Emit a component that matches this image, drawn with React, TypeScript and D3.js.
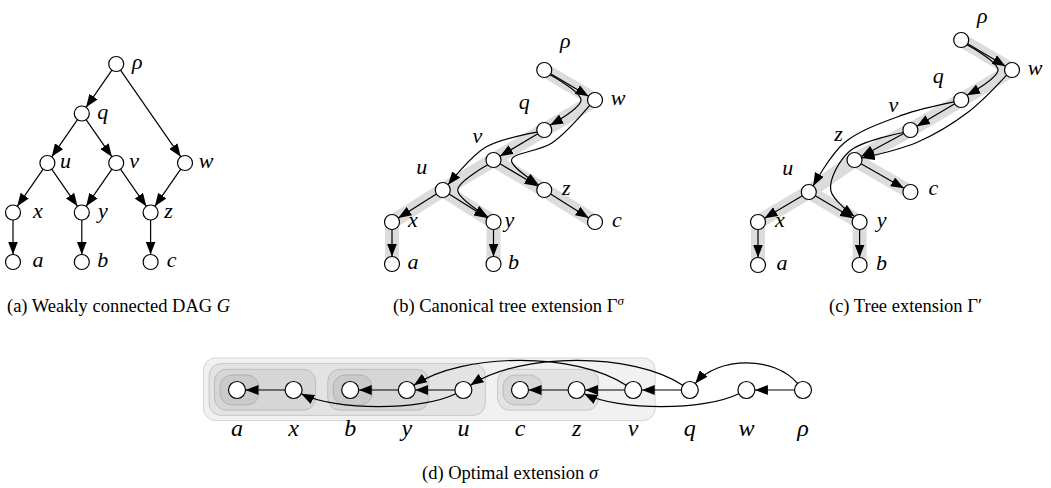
import React, { useRef, useEffect } from "react";
import * as d3 from "d3";

const WIDTH = 1051;
const HEIGHT = 488;

type P = [number, number];

// vertices of G and how they are printed
const nodeIds = ["rho", "q", "u", "v", "w", "x", "y", "z", "a", "b", "c"];
const nodeText: Record<string, string> = {
  rho: "ρ", q: "q", u: "u", v: "v", w: "w", x: "x", y: "y", z: "z", a: "a", b: "b", c: "c",
};

// arcs of the DAG G (source -> target)
const dagEdges: [string, string][] = [
  ["rho", "q"], ["rho", "w"], ["q", "u"], ["q", "v"], ["u", "x"], ["u", "y"],
  ["v", "y"], ["v", "z"], ["w", "z"], ["x", "a"], ["y", "b"], ["z", "c"],
];

// optimal extension sigma, left to right
const sigma = ["a", "x", "b", "y", "u", "c", "z", "v", "q", "w", "rho"];

// parent of each vertex in the canonical tree extension Γ^σ
const parentB: Record<string, string> = {
  w: "rho", q: "w", v: "q", u: "v", z: "v", x: "u", y: "u", a: "x", b: "y", c: "z",
};
// parent of each vertex in the tree extension Γ'
const parentC: Record<string, string> = {
  w: "rho", q: "w", v: "q", z: "v", u: "z", c: "z", x: "u", y: "u", a: "x", b: "y",
};

// vertices that get a nested box in (d)
const boxedD = ["a", "x", "b", "y", "u", "c", "z", "v"];

// grid cells (column, row) of the three drawings
const gridA: Record<string, P> = {
  rho: [3, 0], q: [2, 1], u: [1, 2], v: [3, 2], w: [5, 2],
  x: [0, 3], y: [2, 3], z: [4, 3], a: [0, 4], b: [2, 4], c: [4, 4],
};
const gridB: Record<string, P> = {
  rho: [3, 0], w: [4, 1], q: [3, 2], v: [2, 3], u: [1, 4], z: [3, 4],
  x: [0, 5], y: [2, 5], c: [4, 5], a: [0, 6], b: [2, 6],
};
const gridC: Record<string, P> = {
  rho: [4, 0], w: [5, 1], q: [4, 2], v: [3, 3], z: [1.9, 4], u: [1, 5], c: [3, 5],
  x: [0, 6], y: [2, 6], a: [0, 7], b: [2, 7],
};

const captions = [
  { parts: [["(a) Weakly connected DAG ", false], ["G", true]], x: 7, y: 312 },
  { parts: [["(b) Canonical tree extension Γ", false], ["σ", true, "sup"]], x: 393, y: 312 },
  { parts: [["(c) Tree extension Γ′", false]], x: 829, y: 312 },
  { parts: [["(d) Optimal extension ", false], ["σ", true]], x: 422, y: 479 },
];

const SERIF = '"Liberation Serif", "DejaVu Serif", "Times New Roman", serif';

const unit = (a: P, b: P): P => {
  const dx = b[0] - a[0], dy = b[1] - a[1];
  const l = Math.hypot(dx, dy) || 1;
  return [dx / l, dy / l];
};
const toward = (a: P, b: P, d: number): P => {
  const u = unit(a, b);
  return [a[0] + u[0] * d, a[1] + u[1] * d];
};

// path of the tree from s down to t
const treePath = (s: string, t: string, parent: Record<string, string>) => {
  const p = [t];
  let cur = t;
  while (cur !== s && parent[cur]) {
    cur = parent[cur];
    p.push(cur);
  }
  return p.reverse();
};

const App = () => {
  const svgRef = useRef<SVGSVGElement>(null);

  useEffect(() => {
    const svg = d3
      .select(svgRef.current)
      .attr("width", WIDTH)
      .attr("height", HEIGHT)
      .html("");

    svg
      .append("defs")
      .append("marker")
      .attr("id", "arrowhead")
      .attr("markerUnits", "userSpaceOnUse")
      .attr("viewBox", "0 0 13 10")
      .attr("refX", 13)
      .attr("refY", 5)
      .attr("markerWidth", 13)
      .attr("markerHeight", 10)
      .attr("orient", "auto")
      .append("path")
      .attr("d", "M0,0 L13,5 L0,10 z")
      .attr("fill", "#000");

    const smooth = d3.line().curve(d3.curveCatmullRom.alpha(0.5));

    const drawArrow = (g: any, pts: P[], curved: boolean) => {
      g.append("path")
        .attr("d", curved ? smooth(pts) : d3.line()(pts))
        .attr("fill", "none")
        .attr("stroke", "#000")
        .attr("stroke-width", 1.2)
        .attr("marker-end", "url(#arrowhead)");
    };

    const drawNodes = (g: any, pos: Record<string, P>, r: number) => {
      nodeIds.forEach((id) => {
        g.append("circle")
          .attr("cx", pos[id][0])
          .attr("cy", pos[id][1])
          .attr("r", r)
          .attr("fill", "#fff")
          .attr("stroke", "#000")
          .attr("stroke-width", 1.2);
      });
    };

    const drawLabels = (g: any, pos: Record<string, P>, off: Record<string, P>, size: number) => {
      nodeIds.forEach((id) => {
        const o = off[id] || [21, 0];
        g.append("text")
          .attr("x", pos[id][0] + o[0])
          .attr("y", pos[id][1] + o[1] + size * 0.23)
          .attr("text-anchor", "middle")
          .style("font-family", SERIF)
          .style("font-style", "italic")
          .style("font-size", `${size}px`)
          .text(nodeText[id]);
      });
    };

    // ---------- (a) the DAG ----------
    {
      const xs = d3.scaleLinear().domain([0, 5]).range([13, 185]);
      const ys = d3.scaleLinear().domain([0, 4]).range([64, 262]);
      const pos: Record<string, P> = {};
      nodeIds.forEach((id) => (pos[id] = [xs(gridA[id][0]), ys(gridA[id][1])]));
      const g = svg.append("g");
      const r = 7.5;
      dagEdges.forEach(([s, t]) => {
        drawArrow(g, [toward(pos[s], pos[t], r), toward(pos[t], pos[s], r)], false);
      });
      drawNodes(g, pos, r);
      drawLabels(g, pos, { x: [25, 0], a: [25, 0], u: [18, 0], v: [18, 0], z: [18, 0] }, 22);
    }

    // ---------- (b), (c) tree extensions ----------
    const drawTree = (
      grid: Record<string, P>,
      parent: Record<string, string>,
      xs: any,
      ys: any,
      routes: Record<string, { sides: number[]; off: number[] }>,
      labelOff: Record<string, P>
    ) => {
      const pos: Record<string, P> = {};
      nodeIds.forEach((id) => (pos[id] = [xs(grid[id][0]), ys(grid[id][1])]));
      const g = svg.append("g");
      const r = 7.5;
      Object.keys(parent).forEach((child) => {
        g.append("line")
          .attr("x1", pos[parent[child]][0])
          .attr("y1", pos[parent[child]][1])
          .attr("x2", pos[child][0])
          .attr("y2", pos[child][1])
          .attr("stroke", "#dcdcdc")
          .attr("stroke-width", 14)
          .attr("stroke-linecap", "round");
      });
      dagEdges.forEach(([s, t]) => {
        const path = treePath(s, t, parent);
        const pts = path.map((id) => pos[id]);
        if (pts.length === 2) {
          drawArrow(g, [toward(pts[0], pts[1], r), toward(pts[1], pts[0], r)], false);
          return;
        }
        const spec = routes[`${s}-${t}`];
        const way: P[] = [pts[0]];
        for (let i = 1; i < pts.length - 1; i++) {
          const d = unit(pts[i - 1], pts[i + 1]);
          const n: P = spec.sides[i - 1] > 0 ? [-d[1], d[0]] : [d[1], -d[0]];
          const o = spec.off[i - 1];
          way.push([pts[i][0] + n[0] * o, pts[i][1] + n[1] * o]);
        }
        way.push(pts[pts.length - 1]);
        const last = way.length - 1;
        way[0] = toward(way[0], way[1], r);
        way[last] = toward(way[last], way[last - 1], r);
        drawArrow(g, way, true);
      });
      drawNodes(g, pos, r);
      drawLabels(g, pos, labelOff, 22);
    };

    drawTree(
      gridB,
      parentB,
      d3.scaleLinear().domain([0, 4]).range([392, 595]),
      d3.scaleLinear().domain([0, 4, 5, 6]).range([70, 190, 222, 264]),
      {
        "rho-q": { sides: [1], off: [14] },
        "w-z": { sides: [-1, -1], off: [15, 18] },
        "q-u": { sides: [1], off: [15] },
        "v-y": { sides: [-1], off: [15] },
      },
      {
        rho: [21, -27], w: [23, 0], q: [-20, -26], v: [-16, -22], u: [-21, -21],
        x: [21, 0], y: [16, 0], z: [22, 0], c: [22, 0], a: [21, 0], b: [20, 0],
      }
    );

    drawTree(
      gridC,
      parentC,
      d3.scaleLinear().domain([0, 5]).range([758, 1012]),
      d3.scaleLinear().domain([0, 4, 5, 6, 7]).range([40, 160, 192, 222, 265]),
      {
        "rho-q": { sides: [1], off: [14] },
        "q-u": { sides: [1, 1], off: [17, 20] },
        "w-z": { sides: [-1, -1], off: [14, 14] },
        "v-y": { sides: [1, -1], off: [10, 22] },
      },
      {
        rho: [21, -22], w: [23, 0], q: [-23, -22], v: [-17, -23], z: [-16, -24], u: [-21, -22],
        c: [23, -2], x: [22, 0], y: [22, 0], a: [24, 0], b: [22, 0],
      }
    );

    // ---------- (d) the optimal extension sigma ----------
    {
      const xs = d3.scalePoint().domain(sigma).range([237, 803]);
      const cy = 390;
      const r = 8.5;
      const g = svg.append("g");
      const children: Record<string, string[]> = {};
      Object.keys(parentB).forEach((c) => {
        (children[parentB[c]] = children[parentB[c]] || []).push(c);
      });
      const subtree = (id: string): string[] =>
        [id].concat(...(children[id] || []).map(subtree));
      const height = (id: string): number =>
        (children[id] || []).reduce((m, c) => Math.max(m, height(c) + 1), 0);

      boxedD
        .map((id) => {
          const idx = subtree(id).map((n) => sigma.indexOf(n));
          return { id, lo: d3.min(idx)!, hi: d3.max(idx)!, h: height(id) };
        })
        .sort((p, q) => q.h - p.h)
        .forEach((b) => {
          const x0 = xs(sigma[b.lo])! - (17 + 5.5 * b.h);
          const x1 = xs(sigma[b.hi])! + 22;
          const top = cy - (15 + 5.7 * b.h);
          const bottom = cy + (15 + 5.2 * b.h);
          g.append("rect")
            .attr("x", x0)
            .attr("y", top)
            .attr("width", x1 - x0)
            .attr("height", bottom - top)
            .attr("rx", 12)
            .attr("fill", "rgba(0,0,0,0.055)")
            .attr("stroke", "rgba(0,0,0,0.14)")
            .attr("stroke-width", 1);
        });

      const arcSide: Record<string, number> = { "rho-q": -1, "q-u": -1, "v-y": -1, "u-x": 1, "w-z": 1 };
      dagEdges.forEach(([s, t]) => {
        const ps: P = [xs(s)!, cy];
        const pt: P = [xs(t)!, cy];
        const steps = Math.abs(sigma.indexOf(s) - sigma.indexOf(t));
        if (steps === 1) {
          drawArrow(g, [toward(ps, pt, r), toward(pt, ps, r)], false);
          return;
        }
        const side = arcSide[`${s}-${t}`] || -1;
        const h = side < 0 ? 30 + 2 * steps : 21;
        const span = ps[0] - pt[0];
        const c1: P = [ps[0] - 0.25 * span, cy + side * h];
        const c2: P = [pt[0] + 0.25 * span, cy + side * h];
        const a = toward(ps, c1, r);
        const e = toward(pt, c2, r);
        const p = d3.path();
        p.moveTo(a[0], a[1]);
        p.bezierCurveTo(c1[0], c1[1], c2[0], c2[1], e[0], e[1]);
        g.append("path")
          .attr("d", p.toString())
          .attr("fill", "none")
          .attr("stroke", "#000")
          .attr("stroke-width", 1.2)
          .attr("marker-end", "url(#arrowhead)");
      });

      sigma.forEach((id) => {
        g.append("circle")
          .attr("cx", xs(id)!)
          .attr("cy", cy)
          .attr("r", r)
          .attr("fill", "#fff")
          .attr("stroke", "#000")
          .attr("stroke-width", 1.2);
        g.append("text")
          .attr("x", xs(id)!)
          .attr("y", 436)
          .attr("text-anchor", "middle")
          .style("font-family", SERIF)
          .style("font-style", "italic")
          .style("font-size", "24px")
          .text(nodeText[id]);
      });
    }

    // ---------- captions ----------
    captions.forEach((cap) => {
      const t = svg
        .append("text")
        .attr("x", cap.x)
        .attr("y", cap.y)
        .style("font-family", SERIF)
        .style("font-size", "18.5px");
      cap.parts.forEach((part: any) => {
        const ts = t.append("tspan").text(part[0]);
        if (part[1]) ts.style("font-style", "italic");
        if (part[2] === "sup") ts.attr("dy", -7).style("font-size", "13px");
      });
    });
  }, []);

  return (
    <svg
      ref={svgRef}
      style={{ position: "absolute", left: 0, top: 0, background: "#fff" }}
    />
  );
};

export default App;
